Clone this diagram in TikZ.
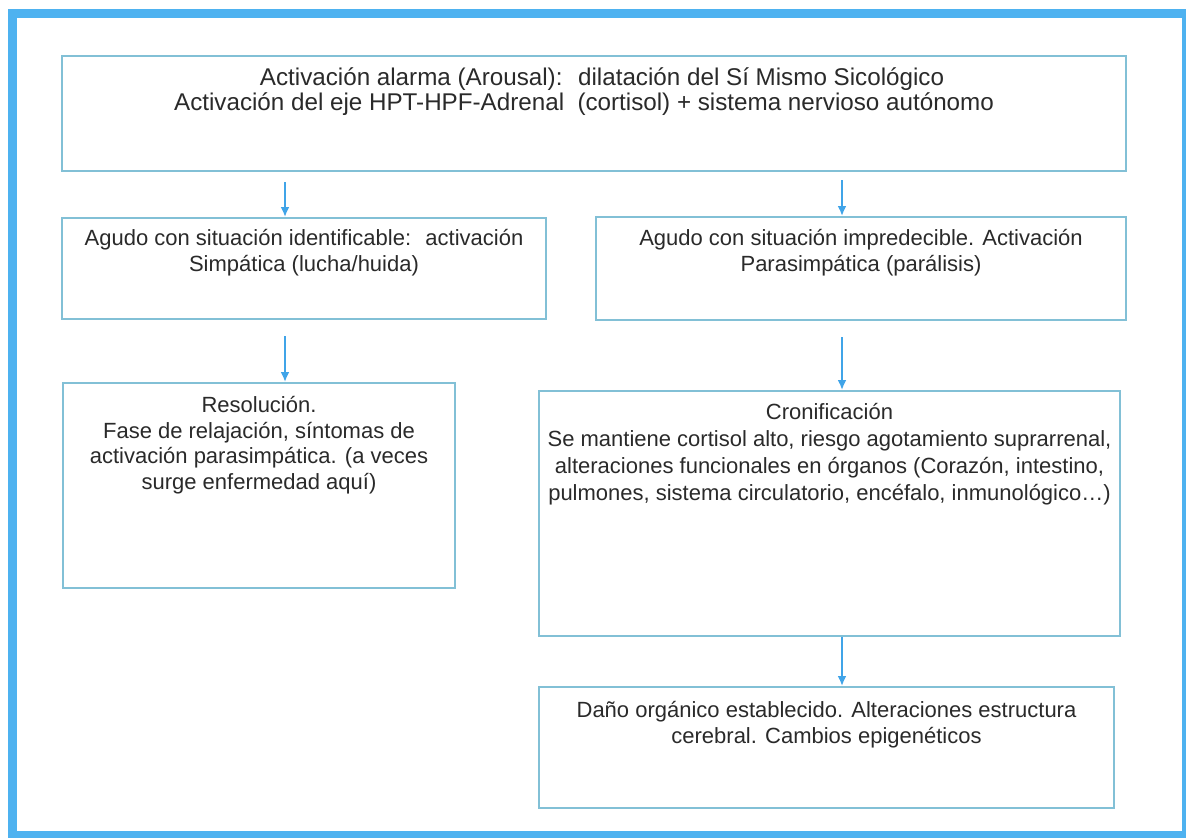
\documentclass[tikz,border=0pt]{standalone}
\usepackage{fontspec}
\setmainfont{Liberation Sans}
\usetikzlibrary{arrows.meta,positioning}

\definecolor{framebl}{RGB}{78,178,240}
\definecolor{boxbl}{RGB}{130,192,214}
\definecolor{arrbl}{RGB}{64,164,232}
\definecolor{txtgr}{RGB}{42,42,42}

\tikzset{
  box/.style={draw=boxbl, line width=1pt, fill=white, minimum width=#1, inner sep=0pt},
  txt/.style={anchor=north, align=center, text=txtgr, font=\fontsize{11}{12.8}\selectfont, inner sep=0pt},
  bigtxt/.style={txt, font=\fontsize{12.1}{12.5}\selectfont},
  arr/.style={draw=arrbl, line width=1.4pt, -{Latex[length=5pt,width=4.5pt]}}
}

\begin{document}
\begin{tikzpicture}[x=0.5pt,y=-0.5pt]

\useasboundingbox (0,0) rectangle (1186,837);

 \draw [framebl, line width=4.5pt] (12.5,13) rectangle (1186.5,835.5);

% columns of the arrows
\coordinate (colL) at (285,0);
\coordinate (colR) at (842,0);

 \node[box=532pt, minimum height=57.5pt] (alarm) at (594,113.5) {};
 \node[bigtxt, xshift=-5pt] (alarmtxt) at ([yshift=-6pt]alarm.north)
   {\hspace*{18pt}Activación alarma (Arousal):~ dilatación del Sí Mismo Sicológico\\
    Activación del eje HPT-HPF-Adrenal~ (cortisol) + sistema nervioso autónomo};

 \node[box=242pt, minimum height=50.5pt] (agudoL) at (304,268.5) {};
 \node[txt] (agudoLtxt) at ([yshift=-6pt]agudoL.north)
   {Agudo con situación identificable:~ activación\\
    Simpática (lucha/huida)};

 \node[box=265pt, minimum height=51.5pt] (agudoR) at (861,268.5) {};
 \node[txt] (agudoRtxt) at ([yshift=-6.5pt]agudoR.north)
   {Agudo con situación impredecible. Activación\\
    Parasimpática (parálisis)};

 \node[box=196pt, minimum height=102.5pt] (resol) at (259,485.5) {};
 \node[txt] (resoltxt) at ([yshift=-7pt]resol.north)
   {Resolución.\\
    Fase de relajación, síntomas de\\
    activación parasimpática. (a veces\\
    surge enfermedad aquí)};

 \node[box=290.5pt, minimum height=122.5pt] (cronif) at (829.5,513.5) {};
 \node[txt, font=\fontsize{11}{13.5}\selectfont] (cronitxt) at ([yshift=-6.5pt]cronif.north)
   {Cronificación\\
    Se mantiene cortisol alto, riesgo agotamiento suprarrenal,\\
    alteraciones funcionales en órganos (Corazón, intestino,\\
    pulmones, sistema circulatorio, encéfalo, inmunológico…)};

 \node[box=287.5pt, minimum height=60.5pt] (dano) at (826.5,747.5) {};
 \node[txt] (danotxt) at ([yshift=-7.5pt]dano.north)
   {Daño orgánico establecido. Alteraciones estructura\\
    cerebral. Cambios epigenéticos};

 \draw[arr, shorten <=5pt] (alarm.south -| colL) -- (agudoL.north -| colL);
 \draw[arr, shorten <=4pt] (alarm.south -| colR) -- (agudoR.north -| colR);
 \draw[arr, shorten <=8pt] (agudoL.south -| colL) -- (resol.north -| colL);
 \draw[arr, shorten <=8pt] (agudoR.south -| colR) -- (cronif.north -| colR);
 \draw[arr] (cronif.south -| colR) -- (dano.north -| colR);

\end{tikzpicture}
\end{document}
